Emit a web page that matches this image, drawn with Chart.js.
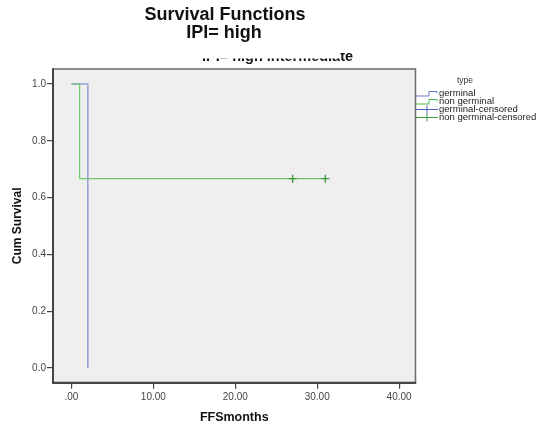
<!DOCTYPE html>
<html>
<head>
<meta charset="utf-8">
<script src="https://cdn.jsdelivr.net/npm/chart.js@4.4.1/dist/chart.umd.min.js"></script>
<style>
  html, body { margin: 0; padding: 0; background: #ffffff; }
  #wrap { position: relative; width: 537px; height: 425px; }
</style>
</head>
<body>
<div id="wrap"><canvas id="c" width="537" height="425"></canvas></div>
<script>
// ---- data ----
const titleLines = ['Survival Functions', 'IPI= high'];
const hiddenSubtitle = 'IPI= high intermediate';
const legendTitle = 'type';
const legendLabels = ['germinal', 'non germinal', 'germinal-censored', 'non germinal-censored'];
const xAxisTitle = 'FFSmonths';
const yAxisTitle = 'Cum Survival';
const xTickValues = [0, 10, 20, 30, 40];
const xTickLabels = ['.00', '10.00', '20.00', '30.00', '40.00'];
const yTickValues = [0, 0.2, 0.4, 0.6, 0.8, 1.0];
const yTickLabels = ['0.0', '0.2', '0.4', '0.6', '0.8', '1.0'];

const germinalTime = [0, 2, 2];
const germinalSurv = [1, 1, 0];
const nonGerminalTime = [0, 1, 1, 31];
const nonGerminalSurv = [1, 1, 0.6667, 0.6667];
const germinalCensTime = [];
const germinalCensSurv = [];
const nonGerminalCensTime = [27, 31];
const nonGerminalCensSurv = [0.6667, 0.6667];

// ---- styles ----
const BLUE = '#9aa3d6';
const GREEN = '#6cc46c';
const CENS_BLUE = '#5060c0';
const CENS_GREEN = '#3c9c3c';
const legendColors = ['#6f7fd0', '#4cb84c', CENS_BLUE, CENS_GREEN];
const legendKinds = ['step', 'step', 'cens', 'cens'];

const pts = (xs, ys) => xs.map((x, i) => ({ x: x, y: ys[i] }));

const framePlugin = {
  id: 'frame',
  beforeDatasetsDraw(chart) {
    const { ctx, chartArea: a } = chart;
    ctx.save();
    ctx.fillStyle = '#efefef';
    ctx.fillRect(a.left, a.top, a.right - a.left, a.bottom - a.top);
    ctx.restore();
  },
  afterDatasetsDraw(chart) {
    const { ctx, chartArea: a } = chart;
    ctx.save();
    ctx.strokeStyle = '#6a6a6a';
    ctx.lineWidth = 1.5;
    ctx.strokeRect(a.left, a.top, a.right - a.left, a.bottom - a.top);
    ctx.strokeStyle = '#444';
    ctx.lineWidth = 2;
    ctx.beginPath();
    ctx.moveTo(a.left, a.top);
    ctx.lineTo(a.left, a.bottom);
    ctx.lineTo(a.right, a.bottom);
    ctx.stroke();
    ctx.restore();
  },
  afterDraw(chart) {
    const { ctx } = chart;
    ctx.save();
    // partially hidden subtitle
    ctx.save();
    ctx.beginPath();
    ctx.rect(0, 58.5, 340, 10);
    ctx.rect(340, 53, 100, 15);
    ctx.clip();
    ctx.fillStyle = '#111';
    ctx.font = 'bold 14.5px "Liberation Sans", Arial, sans-serif';
    ctx.textAlign = 'center';
    ctx.textBaseline = 'alphabetic';
    ctx.fillText(hiddenSubtitle, 277.5, 61);
    ctx.restore();

    // titles
    ctx.fillStyle = '#111';
    ctx.font = 'bold 18px "Liberation Sans", Arial, sans-serif';
    ctx.textAlign = 'center';
    ctx.textBaseline = 'alphabetic';
    ctx.fillText(titleLines[0], 225, 20);
    ctx.fillText(titleLines[1], 224, 37.5);

    // legend
    ctx.fillStyle = '#333';
    ctx.font = '8.5px "Liberation Sans", Arial, sans-serif';
    ctx.textAlign = 'center';
    ctx.textBaseline = 'middle';
    ctx.fillText(legendTitle, 465, 81);
    legendLabels.forEach((lab, i) => {
      const y = 93.5 + i * 8;
      ctx.strokeStyle = legendColors[i];
      ctx.lineWidth = 1;
      ctx.beginPath();
      if (legendKinds[i] === 'step') {
        ctx.moveTo(416, y + 2.5);
        ctx.lineTo(429, y + 2.5);
        ctx.lineTo(429, y - 2);
        ctx.lineTo(437, y - 2);
        ctx.lineTo(437, y);
      } else {
        ctx.moveTo(416, y);
        ctx.lineTo(438, y);
        ctx.moveTo(427, y - 4);
        ctx.lineTo(427, y + 4);
      }
      ctx.stroke();
      ctx.save();
      ctx.translate(439, y + 0.5);
      ctx.scale(1.12, 1);
      ctx.fillStyle = '#222';
      ctx.textAlign = 'left';
      ctx.fillText(lab, 0, 0);
      ctx.restore();
    });
    ctx.restore();
  }
};

const chart = new Chart(document.getElementById('c'), {
  type: 'scatter',
  data: {
    datasets: [
      {
        label: legendLabels[0],
        data: pts(germinalTime, germinalSurv),
        showLine: true,
        borderColor: BLUE,
        borderWidth: 1.6,
        pointRadius: 0,
        fill: false,
        order: 3
      },
      {
        label: legendLabels[1],
        data: pts(nonGerminalTime, nonGerminalSurv),
        showLine: true,
        borderColor: GREEN,
        borderWidth: 1.1,
        pointRadius: 0,
        fill: false,
        order: 2
      },
      {
        label: legendLabels[2],
        data: pts(germinalCensTime, germinalCensSurv),
        showLine: false,
        pointStyle: 'cross',
        pointRadius: 4,
        borderColor: CENS_BLUE,
        borderWidth: 1.3,
        order: 1
      },
      {
        label: legendLabels[3],
        data: pts(nonGerminalCensTime, nonGerminalCensSurv),
        showLine: false,
        pointStyle: 'cross',
        pointRadius: 4,
        borderColor: CENS_GREEN,
        borderWidth: 1.4,
        order: 0
      }
    ]
  },
  options: {
    responsive: false,
    animation: false,
    events: [],
    layout: { padding: { left: 0, top: 69, right: 121.5, bottom: 0 } },
    plugins: {
      legend: { display: false },
      title: { display: false },
      tooltip: { enabled: false }
    },
    scales: {
      x: {
        type: 'linear',
        min: -2.25,
        max: 42,
        afterFit(s) { s.height = 42.3; },
        afterBuildTicks(s) { s.ticks = xTickValues.map(v => ({ value: v })); },
        grid: { display: true, drawOnChartArea: false, drawTicks: true, tickLength: 6, color: '#444', lineWidth: 1.2 },
        border: { display: true, color: '#444', width: 2 },
        ticks: {
          autoSkip: false,
          maxRotation: 0,
          padding: 3,
          color: '#444',
          font: { family: '"Liberation Sans", Arial, sans-serif', size: 10 },
          callback(v) { const i = xTickValues.indexOf(v); return i >= 0 ? xTickLabels[i] : ''; }
        },
        title: {
          display: true,
          text: xAxisTitle,
          color: '#111',
          padding: { top: 0, bottom: 0 },
          font: { family: '"Liberation Sans", Arial, sans-serif', size: 12.5, weight: 'bold' }
        }
      },
      y: {
        type: 'linear',
        min: -0.052,
        max: 1.053,
        afterFit(s) { s.width = 53; },
        afterBuildTicks(s) { s.ticks = yTickValues.map(v => ({ value: v })); },
        grid: { display: true, drawOnChartArea: false, drawTicks: true, tickLength: 6, color: '#444', lineWidth: 1.2 },
        border: { display: true, color: '#444', width: 2 },
        ticks: {
          autoSkip: false,
          padding: 1,
          color: '#444',
          font: { family: '"Liberation Sans", Arial, sans-serif', size: 10 },
          callback(v) { const i = yTickValues.findIndex(t => Math.abs(t - v) < 1e-9); return i >= 0 ? yTickLabels[i] : ''; }
        },
        title: {
          display: true,
          text: yAxisTitle,
          color: '#111',
          padding: { top: 10.3, bottom: 0 },
          font: { family: '"Liberation Sans", Arial, sans-serif', size: 12, weight: 'bold' }
        }
      }
    }
  },
  plugins: [framePlugin]
});
</script>
</body>
</html>
